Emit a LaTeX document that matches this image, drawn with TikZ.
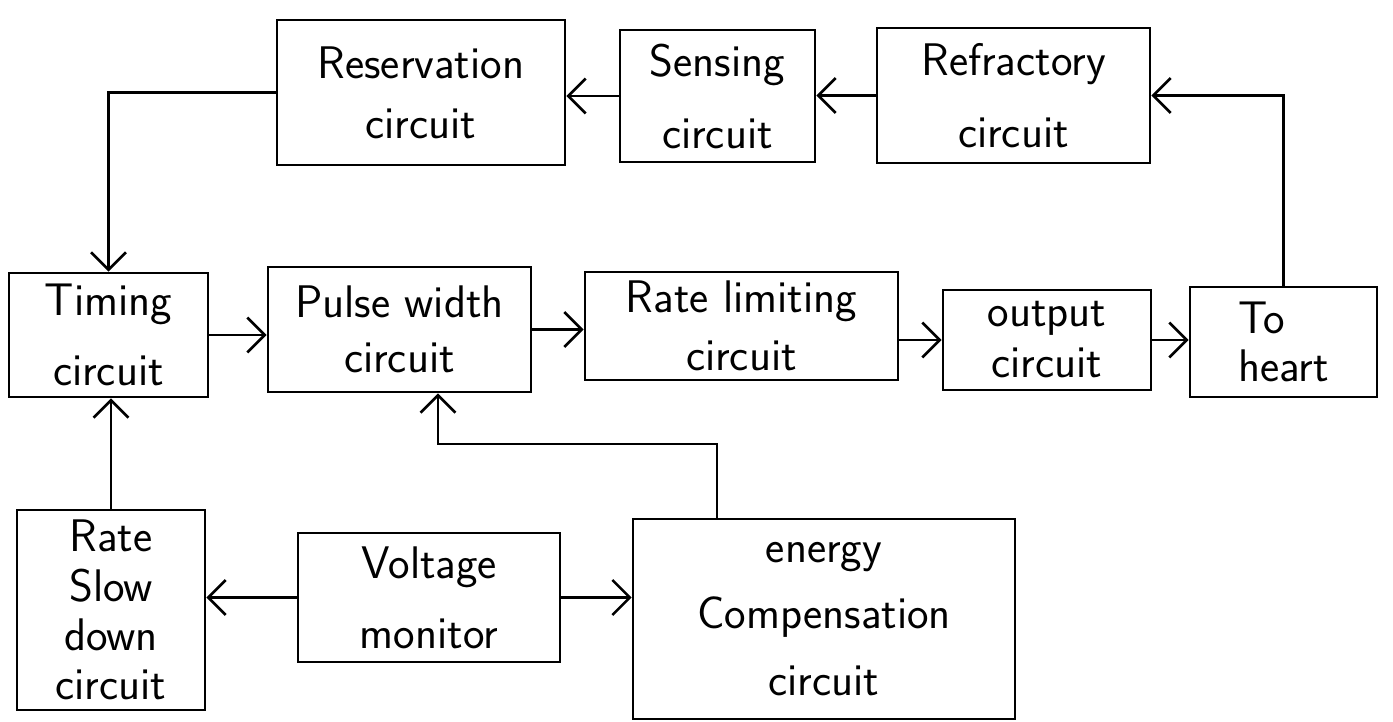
\documentclass[tikz,border=0pt]{standalone}
\usepackage{tikz}
\usetikzlibrary{arrows.meta}

\begin{document}
\begin{tikzpicture}[x=0.02cm, y=-0.02cm, line width=1.5pt,
  >={Straight Barb[length=3.5mm,width=7mm]},
  blk/.style={draw, inner sep=0pt, align=center, font=\sffamily\fontsize{26}{#1}\selectfont},
  blk/.default=34pt]
\fill[white] (0,0) rectangle (1393,722);
\useasboundingbox (0,0) rectangle (1393,722);
\node[blk=34pt, minimum width=5.76cm, minimum height=2.9cm] (res) at (421,92.5) {Reservation\\circuit};
\node[blk=41pt, minimum width=3.9cm, minimum height=2.64cm] (sen) at (717.5,96) {Sensing\\circuit};
\node[blk=41pt, minimum width=5.46cm, minimum height=2.7cm] (ref) at (1013.5,95.5) {Refractory\\circuit};
\node[blk=40pt, minimum width=3.98cm, minimum height=2.48cm] (tim) at (108.5,335) {Timing\\circuit};
\node[blk=31pt, minimum width=5.26cm, minimum height=2.5cm] (pul) at (399.5,329.5) {Pulse width\\circuit};
\node[blk=33pt, minimum width=6.26cm, minimum height=2.16cm] (lim) at (741.5,326) {Rate limiting\\circuit};
\node[blk=29pt, minimum width=4.16cm, minimum height=2.0cm] (out) at (1047,340) {output\\circuit};
\node[blk=27pt, align=left, minimum width=3.74cm, minimum height=2.2cm] (hrt) at (1283.5,342) {To\\heart};
\node[blk=28pt, minimum width=3.76cm, minimum height=4.0cm] (slw) at (111,610) {Rate\\Slow\\down\\circuit};
\node[blk=40pt, minimum width=5.24cm, minimum height=2.58cm] (vol) at (429,597.5) {Voltage\\monitor};
\node[blk=38pt, minimum width=7.64cm, minimum height=4.0cm] (eng) at (824,619) {energy\\Compensation\\circuit};
\coordinate (bend) at (438,444);
\draw[->] (sen.west) -- (sen.west -| res.east); \draw[->] (ref.west) -- (ref.west -| sen.east);
\draw[->] (hrt.north) |- (ref.east); \draw[->] (res.west) -| (tim.north);
\draw[->] (tim.east) -- (tim.east -| pul.west); \draw[->] (pul.east) -- (pul.east -| lim.west);
\draw[->] (out.west -| lim.east) -- (out.west); \draw[->] (out.east) -- (out.east -| hrt.west);
\draw[->] (slw.north) -- (slw.north |- tim.south); \draw[->] ([xshift=-2.14cm]eng.north) |- (bend) -- (bend |- pul.south);
\draw[->] (vol.west) -- (vol.west -| slw.east); \draw[->] (vol.east) -- (vol.east -| eng.west);
\end{tikzpicture}
\end{document}
